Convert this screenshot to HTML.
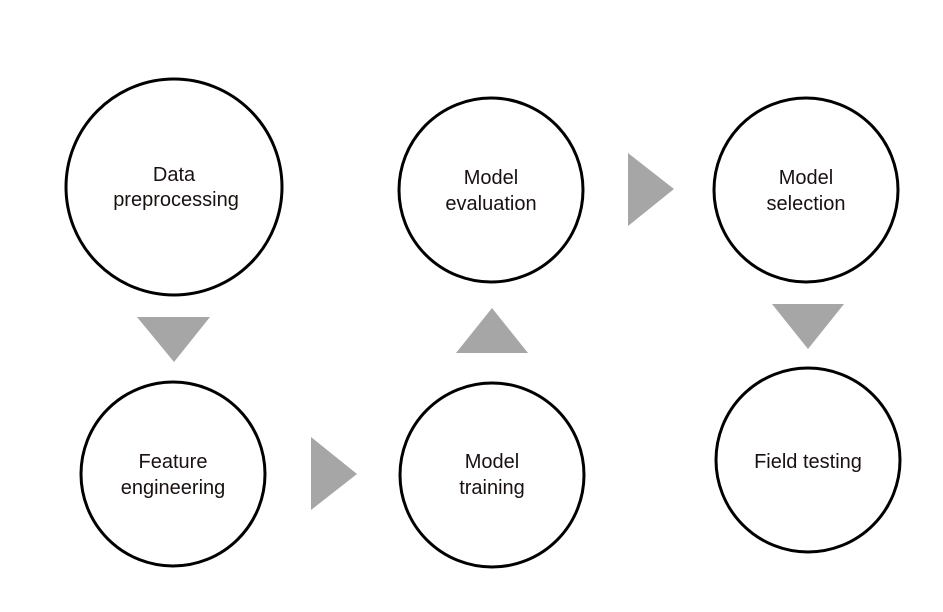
<!DOCTYPE html>
<html><head><meta charset="utf-8"><style>
html,body{margin:0;padding:0;background:#fff;}
svg{display:block}
text{font-family:"Liberation Sans",sans-serif;font-size:20px;fill:#1a1010;text-anchor:middle}
</style></head><body>
<svg width="943" height="612" viewBox="0 0 943 612">
<g fill="none" stroke="#000" stroke-width="3">
<circle cx="174" cy="187" r="108"/>
<circle cx="173" cy="474" r="92"/>
<circle cx="491" cy="190" r="92"/>
<circle cx="492" cy="475" r="92"/>
<circle cx="806" cy="190" r="92"/>
<circle cx="808" cy="460" r="92"/>
</g>
<g fill="#a6a6a6">
<polygon points="137,317 210,317 174,362"/>
<polygon points="311,437 311,510 357,474"/>
<polygon points="456,353 528,353 492,308"/>
<polygon points="628,153 628,226 674,189"/>
<polygon points="772,304 844,304 808,349"/>
</g>
<text x="174" y="181">Data</text>
<text x="176" y="206">preprocessing</text>
<text x="173" y="468">Feature</text>
<text x="173" y="494">engineering</text>
<text x="491" y="184">Model</text>
<text x="491" y="210">evaluation</text>
<text x="492" y="468">Model</text>
<text x="492" y="494">training</text>
<text x="806" y="184">Model</text>
<text x="806" y="210">selection</text>
<text x="808" y="468">Field testing</text>
</svg>
</body></html>
